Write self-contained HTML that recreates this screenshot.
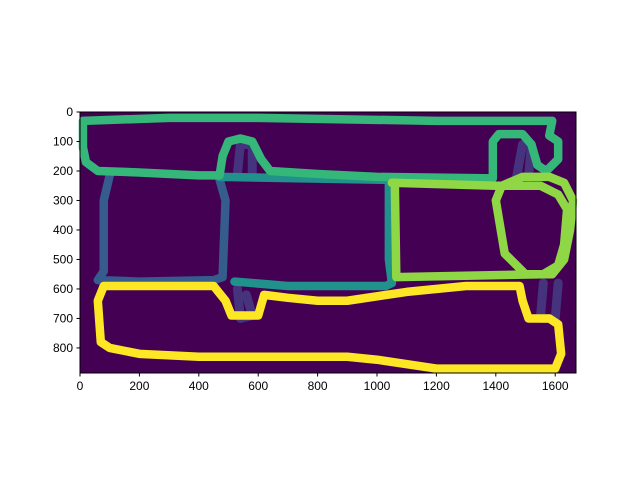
<!DOCTYPE html>
<html><head><meta charset="utf-8"><style>
body{margin:0;background:#fff;font-family:"Liberation Sans",sans-serif}
</style></head><body>
<svg id="chart" width="640" height="480" xmlns="http://www.w3.org/2000/svg">
<rect x="80" y="112" width="496" height="261" fill="#440154"/>
<g id="marks"></g>
<rect x="80" y="112" width="496" height="261" fill="none" stroke="#000" stroke-width="1"/>
<g id="axes" font-size="12" fill="#000"></g>
</svg>
<script>
const xTicks=[0,200,400,600,800,1000,1200,1400,1600];
const yTicks=[0,100,200,300,400,500,600,700,800];
const xMax=1670, yMax=885;
const greenPath=[[10,30],[10,120],[20,170],[60,200],[200,205],[400,215],[470,215],[480,150],[500,100],[540,90],[580,100],[610,160],[640,200],[800,210],[1000,220],[1390,225],[1390,100],[1410,75],[1490,75],[1520,110],[1540,180],[1570,200],[1610,160],[1610,100],[1580,80],[1590,30],[1200,30],[600,20],[300,20],[10,30]];
const tealPath=[[470,220],[1040,230],[1040,500],[1050,580],[1030,590],[700,590],[520,575]];
const bluePath=[[100,215],[80,300],[80,540],[60,570],[200,575],[450,570],[480,560],[490,300],[470,230]];
const purple1=[[530,210],[540,110],[580,110],[580,210]];
const purple2=[[1470,220],[1490,110],[1520,110],[1510,220]];
const purple3=[[530,600],[540,700],[580,690],[560,620]];
const purple4=[[1560,580],[1550,700],[1600,700],[1610,580]];
const lgreenRect=[[1050,240],[1400,250],[1550,250],[1610,280],[1640,330],[1630,450],[1610,520],[1560,550],[1065,560],[1060,240]];
const lgreenD=[[1420,250],[1400,300],[1430,480],[1500,550],[1590,550],[1630,500],[1650,400],[1660,300],[1630,240],[1580,220],[1490,220],[1420,250]];
const yellowPath=[[80,590],[60,640],[70,780],[100,800],[200,820],[400,830],[900,830],[1000,840],[1200,870],[1600,870],[1620,820],[1610,720],[1580,700],[1510,700],[1490,640],[1480,590],[1300,590],[1100,610],[900,640],[800,640],[700,630],[620,620],[600,690],[510,690],[490,640],[450,590],[300,590],[80,590]];
const series=[["purple-stroke-1",purple1,"#46337e"],["purple-stroke-2",purple2,"#46337e"],["purple-stroke-3",purple3,"#46337e"],["purple-stroke-4",purple4,"#46337e"],["blue-contour",bluePath,"#365c8d"],["teal-contour",tealPath,"#21918c"],["green-contour",greenPath,"#35b779"],["lightgreen-rect",lgreenRect,"#8fd744"],["lightgreen-loop",lgreenD,"#8fd744"],["yellow-contour",yellowPath,"#fde725"]];
function sx(v){return 80+v*496/xMax;}
function sy(v){return 112+v*261/yMax;}
const NS="http://www.w3.org/2000/svg";
const marks=document.getElementById('marks');
for(const [name,pts,col] of series){
 const p=document.createElementNS(NS,'polyline');
 p.setAttribute('points',pts.map(q=>sx(q[0])+','+sy(q[1])).join(' '));
 p.setAttribute('fill','none');p.setAttribute('stroke',col);
 p.setAttribute('stroke-width',name.startsWith('purple')?'9':'8.5');
 p.setAttribute('stroke-linejoin','round');p.setAttribute('stroke-linecap','round');
 
 
 marks.appendChild(p);
}
const axes=document.getElementById('axes');
for(const t of xTicks){
 const l=document.createElementNS(NS,'line');
 l.setAttribute('x1',sx(t));l.setAttribute('x2',sx(t));l.setAttribute('y1',373);l.setAttribute('y2',376.5);l.setAttribute('stroke','#000');
 
 
 axes.appendChild(l);
 const tx=document.createElementNS(NS,'text');
 tx.setAttribute('x',sx(t));tx.setAttribute('y',390);tx.setAttribute('text-anchor','middle');tx.textContent=t;
 
 
 axes.appendChild(tx);
}
for(const t of yTicks){
 const l=document.createElementNS(NS,'line');
 l.setAttribute('x1',76.5);l.setAttribute('x2',80);l.setAttribute('y1',sy(t));l.setAttribute('y2',sy(t));l.setAttribute('stroke','#000');
 
 
 axes.appendChild(l);
 const tx=document.createElementNS(NS,'text');
 tx.setAttribute('x',73);tx.setAttribute('y',sy(t)+4);tx.setAttribute('text-anchor','end');tx.textContent=t;
 
 
 axes.appendChild(tx);
}
</script>
</body></html>
